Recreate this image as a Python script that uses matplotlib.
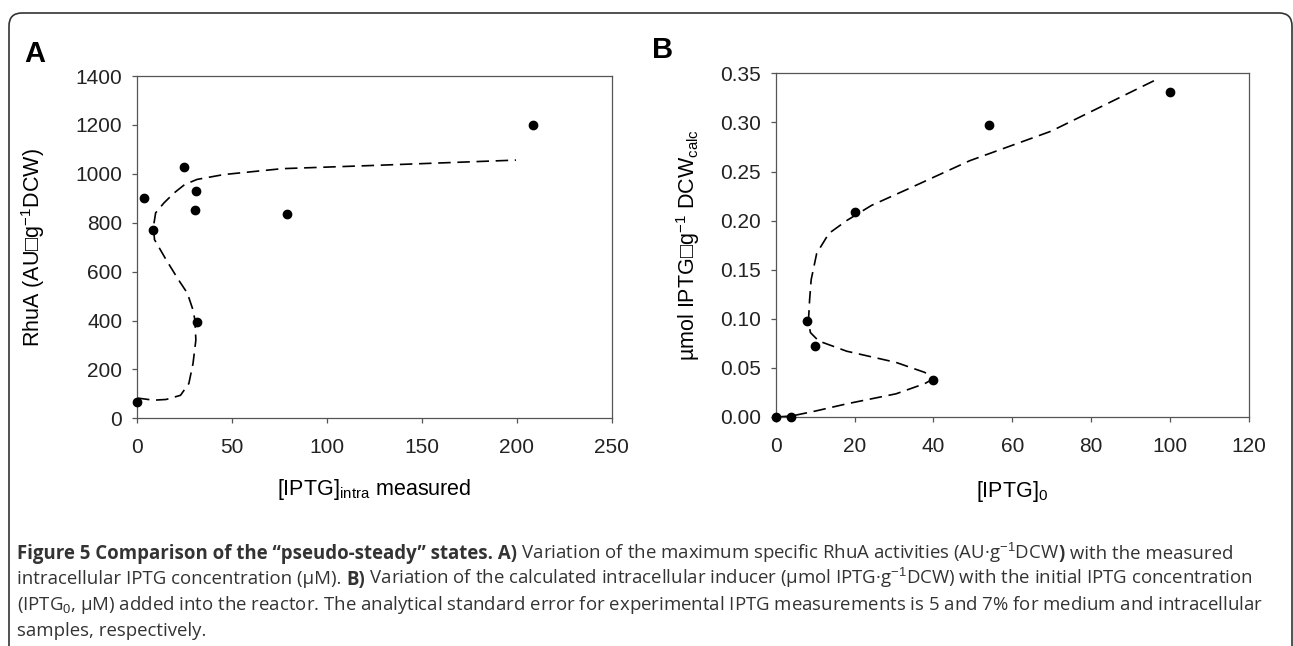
import numpy as np
import matplotlib.pyplot as plt
from matplotlib.patches import FancyBboxPatch

plt.rcParams['font.family'] = ['Liberation Sans', 'DejaVu Sans']
plt.rcParams['mathtext.fontset'] = 'custom'
plt.rcParams['mathtext.rm'] = 'Liberation Sans'
plt.rcParams['mathtext.it'] = 'Liberation Sans:italic'
plt.rcParams['mathtext.bf'] = 'Liberation Sans:bold'

# panel A: RhuA activity vs measured intracellular IPTG
a_x = [0, 3.5, 8.3, 25, 31, 30.8, 79, 208.5, 31.8]
a_y = [65, 900, 769, 1029, 928, 850, 836, 1201, 393]
# dashed trend
a_cx = [0, 4, 8.7, 15.3, 22.9, 27.3, 29.5, 31.0, 30.5, 29.5, 26.5, 21.8, 15.3,
        11.5, 9.2, 8.7, 9.8, 14.2, 19.6, 25.1, 31.6, 45.8, 76.4, 124, 199.6]
a_cy = [83, 79, 74, 77, 94, 142, 224, 320, 402, 443, 512, 567, 649,
        700, 731, 785, 840, 881, 922, 956, 977, 997, 1021, 1034, 1056]

# panel B: calculated intracellular inducer vs initial IPTG
b_x = [0, 4, 8, 10, 20, 40, 54, 100]
b_y = [0.0, 0.0, 0.098, 0.072, 0.209, 0.038, 0.297, 0.331]
b_cx = [0, 4, 10, 18, 30.5, 37.8, 40, 37.8, 30.5, 18, 10.9, 8.8, 8.3, 8.6,
        9.0, 10.4, 13.5, 18.1, 24.3, 33.6, 49.2, 69.8, 96.2]
b_cy = [0.0, 0.001, 0.006, 0.0134, 0.0236, 0.034, 0.039, 0.0454, 0.0556, 0.067,
        0.0774, 0.086, 0.0976, 0.1195, 0.14, 0.1667, 0.187, 0.2003, 0.2155,
        0.2323, 0.261, 0.291, 0.343]

W, H = 1293, 646
fig = plt.figure(figsize=(W / 100, H / 100), dpi=100)

spine_col = '#555555'


def style(ax):
    for s in ax.spines.values():
        s.set_color(spine_col)
        s.set_linewidth(0.9)
    ax.tick_params(direction='out', length=3.6, width=0.9, color=spine_col,
                   labelsize=15, labelcolor='#222222')
    ax.tick_params(axis='y', pad=7)
    ax.tick_params(axis='x', pad=10.5)


def px_axes(left, top, right, bottom):
    return [left / W, 1 - bottom / H, (right - left) / W, (bottom - top) / H]


axA = fig.add_axes(px_axes(137, 76, 611.7, 418.3))
axA.plot(a_cx, a_cy, color='black', lw=1.2, dashes=(7.5, 4))
axA.plot(a_x, a_y, 'o', color='black', ms=6, zorder=3, clip_on=False)
axA.set_xlim(0, 250)
axA.set_ylim(0, 1400)
axA.set_xticks(np.arange(0, 251, 50))
axA.set_yticks(np.arange(0, 1401, 200))
style(axA)
axA.set_xlabel(r'[IPTG]$_{\rm intra}$ measured', fontsize=15.5)
axA.set_ylabel('RhuA (AU\u25a1g$^{-1}$DCW)', fontsize=15.5)
axA.xaxis.set_label_coords(0.5, -0.172)
axA.yaxis.set_label_coords(-0.19, 0.5)
fig.text(24 / W, 1 - 62 / H, 'A', fontsize=21, fontweight='bold')

axB = fig.add_axes(px_axes(775.7, 73.3, 1249, 417))
axB.plot(b_cx, b_cy, color='black', lw=1.2, dashes=(7.5, 4))
axB.plot(b_x, b_y, 'o', color='black', ms=6, zorder=3, clip_on=False)
axB.set_xlim(0, 120)
axB.set_ylim(0, 0.35)
axB.set_xticks(np.arange(0, 121, 20))
axB.set_yticks(np.arange(0, 0.351, 0.05))
axB.yaxis.set_major_formatter(plt.FormatStrFormatter('%.2f'))
style(axB)
axB.set_xlabel(r'[IPTG]$_0$', fontsize=15.5)
axB.set_ylabel('\u00b5mol IPTG\u25a1g$^{-1}$ DCW$_{\\rm calc}$', fontsize=15.5)
axB.xaxis.set_label_coords(0.5, -0.18)
axB.yaxis.set_label_coords(-0.155, 0.5)
fig.text(652 / W, 1 - 58 / H, 'B', fontsize=21, fontweight='bold')

# rounded frame around the figure
frame = FancyBboxPatch((0.09, -1.0), 12.83, 7.33,
                       boxstyle='round,pad=0,rounding_size=0.13',
                       transform=fig.dpi_scale_trans, fill=False, ec='#333333',
                       lw=1.2, clip_on=False)
fig.add_artist(frame)

# caption
cap_font = ['Open Sans', 'DejaVu Sans']
cap_col = '#333333'
cap_size = 13.4
lines = [
    [('Figure 5 Comparison of the \u201cpseudo-steady\u201d states. A)', 'bold'),
     (' Variation of the maximum specific RhuA activities (AU\u00b7g$^{-1}$DCW', 'normal'),
     (')', 'bold'), (' with the measured', 'normal')],
    [('intracellular IPTG concentration (\u00b5M). ', 'normal'), ('B)', 'bold'),
     (' Variation of the calculated intracellular inducer (\u00b5mol IPTG\u00b7g$^{-1}$DCW)'
      ' with the initial IPTG concentration', 'normal')],
    [('(IPTG$_0$, \u00b5M) added into the reactor. The analytical standard error for'
      ' experimental IPTG measurements is 5 and 7% for medium and intracellular', 'normal')],
    [('samples, respectively.', 'normal')],
]
baselines = [559, 584.5, 610, 635.5]

fig.canvas.draw()
renderer = fig.canvas.get_renderer()
for parts, yb in zip(lines, baselines):
    x_px = 17
    for txt, w in parts:
        t = fig.text(x_px, H - yb, txt, fontsize=cap_size, fontweight=w,
                     family=cap_font, color=cap_col, va='baseline',
                     transform=None)
        x_px = t.get_window_extent(renderer).x1

fig.savefig('out.png', dpi=100)
